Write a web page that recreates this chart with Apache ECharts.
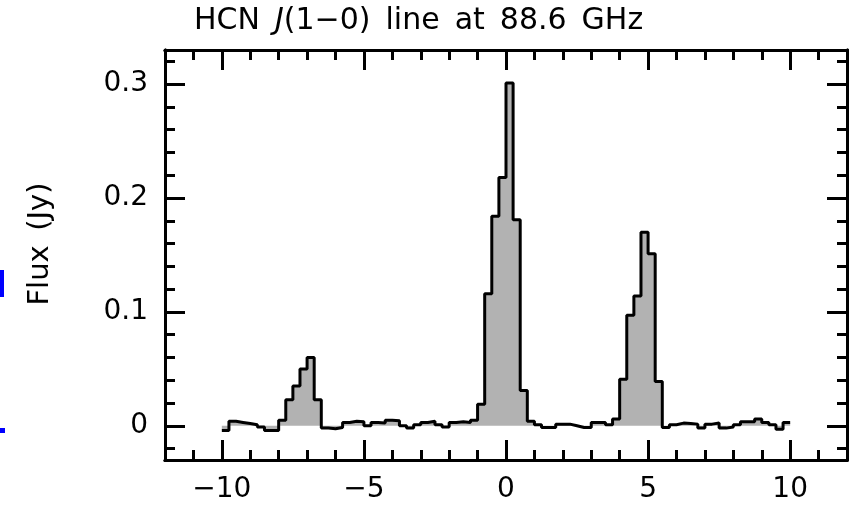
<!DOCTYPE html>
<html>
<head>
<meta charset="utf-8">
<script src="https://cdn.jsdelivr.net/npm/echarts@6/dist/echarts.min.js"></script>
<style>
  html, body { margin: 0; padding: 0; background: #fff; }
  #chart { width: 856px; height: 508px; }
</style>
</head>
<body>
<div id="chart"></div>
<script>
// ---- data ----
// left edges of the velocity channels (km/s), channel width 0.25
const velocityEdges = [-10,-9.75,-9.5,-9.25,-9,-8.75,-8.5,-8.25,-8,-7.75,-7.5,-7.25,-7,-6.75,-6.5,-6.25,-6,-5.75,-5.5,-5.25,-5,-4.75,-4.5,-4.25,-4,-3.75,-3.5,-3.25,-3,-2.75,-2.5,-2.25,-2,-1.75,-1.5,-1.25,-1,-0.75,-0.5,-0.25,0,0.25,0.5,0.75,1,1.25,1.5,1.75,2,2.25,2.5,2.75,3,3.25,3.5,3.75,4,4.25,4.5,4.75,5,5.25,5.5,5.75,6,6.25,6.5,6.75,7,7.25,7.5,7.75,8,8.25,8.5,8.75,9,9.25,9.5,9.75];
const velocityLast = 10;
const flux = [-0.004,0.004,0.003,0.002,0.001,-0.001,-0.004,-0.004,0.005,0.023,0.035,0.050,0.060,0.023,-0.002,-0.0025,-0.0015,0.003,0.004,0.0035,0.000,0.003,0.0025,0.005,0.0045,0.000,-0.002,0.001,0.003,0.004,0.001,-0.001,0.003,0.0035,0.003,0.005,0.019,0.116,0.184,0.218,0.301,0.181,0.031,0.004,0.001,-0.0015,-0.0015,0.0015,0.0015,0.000,-0.0015,-0.0015,0.003,0.003,0.001,0.006,0.041,0.097,0.114,0.170,0.151,0.039,-0.0015,0.001,0.0024,0.002,0.0015,-0.002,0.0015,0.0024,-0.002,-0.001,0.001,0.0035,0.0035,0.006,0.003,0.001,-0.003,0.003];

// ticks
const xMajorTicks = [-10,-5,0,5,10];
const xMinorTicks = [-11,-10,-9,-8,-7,-6,-5,-4,-3,-2,-1,0,1,2,3,4,5,6,7,8,9,10,11];
const yMajorTicks = [0,0.1,0.2,0.3];
const yMinorTicks = [-0.02,0,0.02,0.04,0.06,0.08,0.1,0.12,0.14,0.16,0.18,0.2,0.22,0.24,0.26,0.28,0.3,0.32];

const titleText = 'HCN\u2002{i|J}(1\u22120)\u2002line\u2002at\u200288.6\u2002GHz';
const yName = 'Flux\u2002(Jy)';

// ---- build ----
const FONT = 'DejaVu Sans';
const pts = velocityEdges.map((v, i) => [v, flux[i]]);
pts.push([velocityLast, flux[flux.length - 1]]);

function fmtX(v) { return v < 0 ? '\u2212' + Math.abs(v) : String(v); }
function fmtY(v) { return String(Math.round(v * 10) / 10); }

function xAxis(pos, ticks, len, labels) {
  return {
    type: 'value', position: pos, min: -12, max: 12,
    axisLine: { show: true, onZero: false, lineStyle: { color: '#000', width: 3 } },
    axisTick: { show: true, inside: true, length: len, customValues: ticks, lineStyle: { color: '#000', width: 3 } },
    axisLabel: labels ? { show: true, customValues: xMajorTicks, formatter: fmtX, color: '#000', fontSize: 28, fontFamily: FONT, margin: 16 } : { show: false },
    splitLine: { show: false }
  };
}
function yAxis(pos, ticks, len, labels) {
  return {
    type: 'value', position: pos, min: -0.03, max: 0.33,
    axisLine: { show: true, onZero: false, lineStyle: { color: '#000', width: 3 } },
    axisTick: { show: true, inside: true, length: len, customValues: ticks, lineStyle: { color: '#000', width: 3 } },
    axisLabel: labels ? { show: true, customValues: yMajorTicks, formatter: fmtY, color: '#000', fontSize: 28, fontFamily: FONT, margin: 17 } : { show: false },
    splitLine: { show: false }
  };
}

const chart = echarts.init(document.getElementById('chart'), null, { renderer: 'canvas' });
chart.setOption({
  animation: false,
  backgroundColor: '#fff',
  title: {
    text: titleText, left: 194, top: 6, padding: 0,
    textStyle: { color: '#000', fontSize: 30, fontWeight: 'normal', fontFamily: FONT,
      rich: { i: { fontStyle: 'italic', fontSize: 30, fontFamily: FONT, color: '#000' } } }
  },
  grid: { left: 165, right: 9, top: 50, bottom: 48, containLabel: false, outerBoundsMode: 'none' },
  xAxis: [
    xAxis('bottom', xMinorTicks, 10, true),
    xAxis('bottom', xMajorTicks, 20, false),
    xAxis('top', xMinorTicks, 10, false),
    xAxis('top', xMajorTicks, 20, false)
  ],
  yAxis: [
    yAxis('left', yMinorTicks, 10, true),
    yAxis('left', yMajorTicks, 20, false),
    yAxis('right', yMinorTicks, 10, false),
    yAxis('right', yMajorTicks, 20, false)
  ],
  graphic: [
    { type: 'text', x: 40, y: 244, rotation: Math.PI / 2,
      style: { text: yName, fill: '#000', font: '29px "DejaVu Sans"', align: 'center', verticalAlign: 'middle' } },
    { type: 'rect', shape: { x: 0, y: 270, width: 4, height: 27 }, style: { fill: '#0000ff' } },
    { type: 'rect', shape: { x: 0, y: 428, width: 5, height: 5 }, style: { fill: '#0000ff' } }
  ],
  series: [{
    type: 'line', xAxisIndex: 0, yAxisIndex: 0,
    step: 'end', symbol: 'none', data: pts,
    lineStyle: { color: '#000', width: 3 },
    areaStyle: { color: '#b2b2b2', opacity: 1, origin: 0 },
    z: 1
  }]
});
</script>
</body>
</html>
